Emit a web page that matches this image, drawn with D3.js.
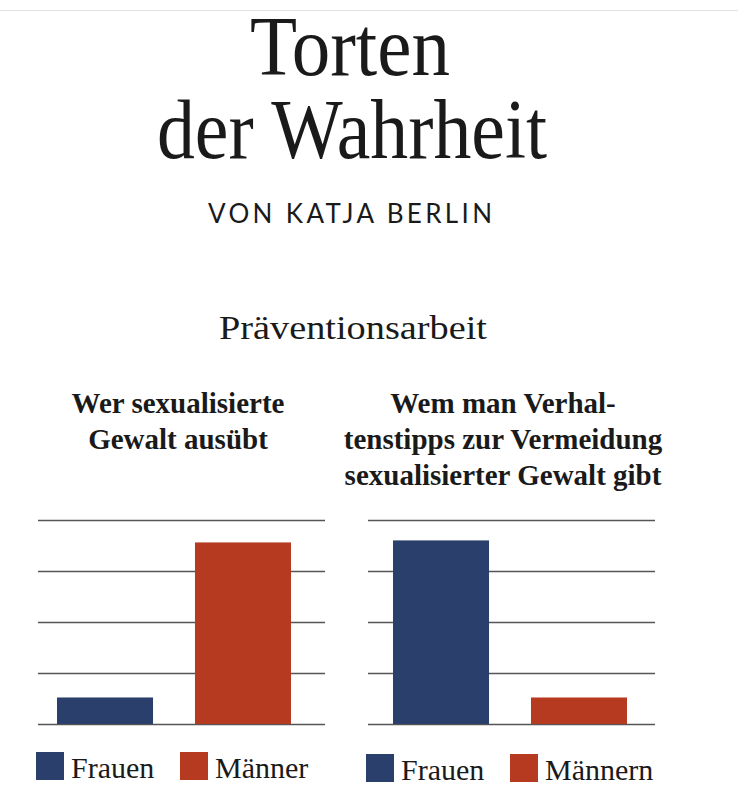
<!DOCTYPE html>
<html lang="de">
<head>
<meta charset="utf-8">
<title>Torten der Wahrheit – Präventionsarbeit</title>
<script src="https://d3js.org/d3.v7.min.js"></script>
<style>
  body { margin: 0; background: #fff; }
  svg { display: block; }
  .serif { font-family: 'Liberation Serif', 'Times New Roman', serif; fill: #1a1a1a; }
  .sans { font-family: Lato, 'Liberation Sans', sans-serif; fill: #1a1a1a; }
  .grid line { stroke: #555; stroke-width: 1.3; }
  .grid path { display: none; }
</style>
</head>
<body>
<div id="chart"></div>
<script>
// --- data ---
var categories = ["Frauen", "Männer"];
var taeterValues = [13, 89];      // Wer sexualisierte Gewalt ausübt
var tippValues = [90, 13];        // Wem man Verhaltenstipps gibt
var legendLeft = ["Frauen", "Männer"];
var legendRight = ["Frauen", "Männern"];
var titleLeft = ["Wer sexualisierte", "Gewalt ausübt"];
var titleRight = ["Wem man Verhal-", "tenstipps zur Vermeidung", "sexualisierter Gewalt gibt"];
var gridTicks = [0, 25, 50, 75, 100];

var colors = ["#2a3f6b", "#b63a20"];

var W = 738, H = 800;
var svg = d3.select("#chart").append("svg")
  .attr("width", W).attr("height", H);

// faint rule at the very top
svg.append("line")
  .attr("x1", 0).attr("x2", W).attr("y1", 10.5).attr("y2", 10.5)
  .attr("stroke", "#e2e2e2").attr("stroke-width", 1);

// header
svg.append("text").attr("class", "serif")
  .attr("x", 350).attr("y", 75).attr("text-anchor", "middle")
  .attr("font-size", 84).attr("textLength", 200).attr("lengthAdjust", "spacingAndGlyphs")
  .text("Torten");
svg.append("text").attr("class", "serif")
  .attr("x", 352).attr("y", 158).attr("text-anchor", "middle")
  .attr("font-size", 84).attr("textLength", 390).attr("lengthAdjust", "spacingAndGlyphs")
  .text("der Wahrheit");
svg.append("text").attr("class", "sans")
  .attr("x", 350).attr("y", 223).attr("text-anchor", "middle")
  .attr("font-size", 26).attr("textLength", 284).attr("lengthAdjust", "spacing")
  .text("VON KATJA BERLIN");
svg.append("text").attr("class", "serif")
  .attr("x", 353).attr("y", 339).attr("text-anchor", "middle")
  .attr("font-size", 34).attr("textLength", 268).attr("lengthAdjust", "spacingAndGlyphs")
  .text("Präventionsarbeit");

// shared y scale
var y = d3.scaleLinear().domain([0, 100]).range([724, 520]);

function drawPanel(opt) {
  var g = svg.append("g");

  // panel heading
  g.append("text").attr("class", "serif")
    .attr("text-anchor", "middle")
    .attr("font-size", 29).attr("font-weight", "bold")
    .selectAll("tspan")
    .data(opt.title)
    .enter().append("tspan")
    .attr("x", opt.titleX)
    .attr("y", function (d, i) { return 413 + i * 36; })
    .text(function (d) { return d; });

  // gridlines
  g.append("g").attr("class", "grid")
    .attr("transform", "translate(" + opt.left + ",0)")
    .call(d3.axisLeft(y).tickValues(gridTicks)
      .tickSize(-(opt.right - opt.left)).tickFormat(""));

  var x = d3.scaleBand().domain(categories)
    .range([opt.left + opt.inL, opt.right - opt.inR])
    .paddingInner(0.304);

  g.selectAll("rect.bar")
    .data(opt.values)
    .enter().append("rect")
    .attr("class", "bar")
    .attr("x", function (d, i) { return x(categories[i]); })
    .attr("width", x.bandwidth())
    .attr("y", function (d) { return y(d); })
    .attr("height", function (d) { return y(0) - y(d); })
    .attr("fill", function (d, i) { return colors[i]; });

  // legend
  var leg = g.selectAll("g.leg")
    .data(opt.legend)
    .enter().append("g")
    .attr("class", "leg")
    .attr("transform", function (d, i) {
      return "translate(" + (opt.left - 2 + i * 144) + "," + opt.legY + ")";
    });
  leg.append("rect")
    .attr("width", 28).attr("height", 28)
    .attr("fill", function (d, i) { return colors[i]; });
  leg.append("text").attr("class", "serif")
    .attr("x", 35).attr("y", 26)
    .attr("font-size", 30)
    .text(function (d) { return d; });
}

drawPanel({ title: titleLeft, titleX: 178, left: 38, right: 325, inL: 19, inR: 34,
            values: taeterValues, legend: legendLeft, legY: 752 });
drawPanel({ title: titleRight, titleX: 503, left: 368, right: 655, inL: 25, inR: 28,
            values: tippValues, legend: legendRight, legY: 754 });
</script>
</body>
</html>
